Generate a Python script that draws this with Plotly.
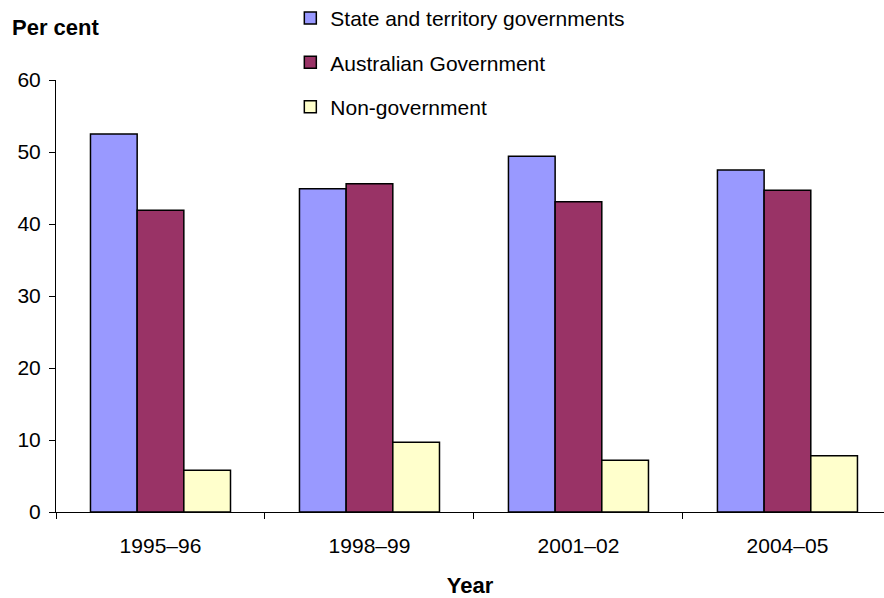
import plotly.graph_objects as go

years = ["1995–96", "1998–99", "2001–02", "2004–05"]
state_territory = [52.5, 44.9, 49.4, 47.5]
australian_gov = [41.9, 45.6, 43.1, 44.7]
non_government = [5.8, 9.7, 7.2, 7.8]

series = [
    ("State and territory governments", state_territory, "#9999FF"),
    ("Australian Government", australian_gov, "#993366"),
    ("Non-government", non_government, "#FFFFCC"),
]

font_family = "Liberation Sans, Arial, sans-serif"

fig = go.Figure()
for i, (name, vals, color) in enumerate(series):
    fig.add_trace(go.Bar(
        x=years, y=vals, name=name, legendgroup=f"g{i}",
        marker=dict(color=color, line=dict(color="black", width=1.5)),
    ))

fig.update_layout(
    width=884, height=598,
    margin=dict(l=56, r=0, t=80, b=86, autoexpand=False),
    paper_bgcolor="white", plot_bgcolor="white",
    barmode="group", bargap=0.33, bargroupgap=0,
    font=dict(family=font_family, size=21, color="black"),
    showlegend=True,
    legend=dict(
        x=0.283, y=1.19, xanchor="left", yanchor="top",
        bgcolor="rgba(0,0,0,0)", font=dict(size=21),
        tracegroupgap=14, traceorder="grouped",
    ),
    xaxis=dict(
        range=[-0.5, 3.462], showline=True, linecolor="black", linewidth=1,
        ticks="outside", tickson="boundaries", ticklen=6, tickcolor="black",
        tickfont=dict(size=21), ticklabelstandoff=15,
        showgrid=False, zeroline=False,
        title=dict(text="<b>Year</b>", font=dict(size=22), standoff=22),
    ),
    yaxis=dict(
        range=[0, 60], tickvals=[0, 10, 20, 30, 40, 50, 60],
        showline=True, linecolor="black", linewidth=1,
        ticks="outside", ticklen=6, tickcolor="black",
        tickfont=dict(size=21), ticklabelstandoff=4,
        showgrid=False, zeroline=False,
    ),
    annotations=[dict(
        text="<b>Per cent</b>", xref="paper", yref="paper",
        x=-0.055, y=1.121, xanchor="left", yanchor="middle",
        showarrow=False, font=dict(size=22),
    )],
)

fig.write_html("out.html")
